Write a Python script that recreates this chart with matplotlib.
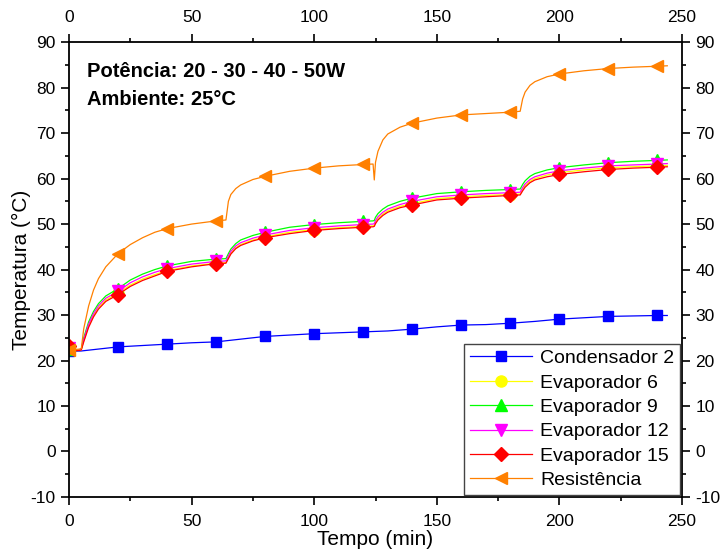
import numpy as np
import matplotlib.pyplot as plt

plt.rcParams['font.family'] = ['Liberation Sans', 'DejaVu Sans']
plt.rcParams['axes.unicode_minus'] = False

# tempo comum para evaporadores e resistencia (min)
tempo = [0, 2, 4, 5, 6, 8, 10, 12, 15, 20, 25, 30, 35, 40, 50, 60, 64, 65, 66, 68,
         70, 75, 80, 90, 100, 110, 120, 124, 124.5, 125, 126, 128, 130, 135, 140,
         150, 160, 170, 180, 184, 185, 186, 188, 190, 195, 200, 210, 220, 230, 240, 244]

resistencia = [22.3, 22.4, 22.5, 22.6, 27.0, 32.0, 35.5, 38.0, 40.6, 43.5, 45.5, 47.0,
               48.2, 49.0, 50.0, 50.7, 50.9, 55.0, 56.5, 57.8, 58.6, 59.8, 60.5, 61.6,
               62.3, 62.8, 63.1, 63.2, 59.7, 63.6, 66.0, 68.5, 69.8, 71.3, 72.2, 73.3,
               74.0, 74.3, 74.6, 74.8, 77.5, 79.0, 80.5, 81.3, 82.4, 83.0, 83.7, 84.2,
               84.5, 84.7, 84.8]

evap9 = [22.6, 22.3, 22.3, 22.5, 25.0, 28.5, 30.8, 32.5, 34.2, 35.8, 37.7, 39.0,
         40.0, 40.8, 41.8, 42.3, 42.4, 43.5, 44.5, 45.7, 46.5, 47.5, 48.2, 49.3,
         49.9, 50.3, 50.6, 50.7, 50.8, 51.5, 52.3, 53.3, 54.0, 55.0, 55.7, 56.7,
         57.1, 57.4, 57.6, 57.7, 58.7, 59.5, 60.5, 61.1, 61.9, 62.4, 63.0, 63.5,
         63.8, 64.0, 64.1]

evap12 = [22.7, 22.3, 22.3, 22.5, 24.6, 28.0, 30.3, 32.0, 33.7, 35.2, 37.1, 38.4,
          39.4, 40.2, 41.2, 41.8, 41.9, 43.0, 44.0, 45.2, 45.9, 46.9, 47.6, 48.6,
          49.2, 49.6, 49.9, 50.0, 50.1, 50.8, 51.6, 52.6, 53.3, 54.3, 55.0, 56.0,
          56.4, 56.7, 56.9, 57.0, 58.0, 58.8, 59.8, 60.4, 61.2, 61.7, 62.3, 62.8,
          63.0, 63.2, 63.3]

evap6 = [22.5, 22.2, 22.2, 22.4, 24.3, 27.6, 29.9, 31.6, 33.3, 34.8, 36.6, 37.9,
         38.9, 39.8, 40.8, 41.4, 41.5, 42.6, 43.6, 44.8, 45.5, 46.5, 47.2, 48.2,
         48.8, 49.2, 49.5, 49.6, 49.7, 50.4, 51.2, 52.2, 52.9, 53.9, 54.5, 55.6,
         56.0, 56.3, 56.5, 56.6, 57.6, 58.4, 59.4, 60.0, 60.8, 61.3, 61.9, 62.4,
         62.6, 62.8, 62.9]

evap15 = [23.2, 22.2, 22.2, 22.3, 24.1, 27.3, 29.6, 31.3, 33.0, 34.5, 36.3, 37.6,
          38.6, 39.6, 40.6, 41.3, 41.4, 42.4, 43.4, 44.6, 45.3, 46.3, 47.0, 47.9,
          48.6, 49.0, 49.3, 49.4, 49.5, 50.1, 50.9, 51.9, 52.6, 53.6, 54.2, 55.3,
          55.7, 56.0, 56.3, 56.4, 57.3, 58.1, 59.1, 59.7, 60.4, 60.9, 61.5, 62.0,
          62.3, 62.5, 62.6]

# condensador
tempo_cond = [0, 5, 10, 20, 30, 40, 50, 60, 70, 80, 90, 100, 110, 120, 130, 140,
              150, 160, 170, 180, 190, 200, 210, 220, 230, 240, 244]
condensador = [22.0, 22.1, 22.4, 23.0, 23.3, 23.6, 23.9, 24.1, 24.7, 25.3, 25.6,
               25.9, 26.1, 26.3, 26.5, 26.9, 27.4, 27.8, 27.9, 28.2, 28.6, 29.1,
               29.4, 29.7, 29.8, 29.9, 29.9]


def marcas(t):
    """indices a cada 20 min"""
    return [i for i, v in enumerate(t) if v % 20 == 0 and v <= 240]


fig = plt.figure(figsize=(7.22, 5.5), dpi=100)
ax = fig.add_axes([0.0956, 0.0964, 0.849, 0.827])

ax.plot(tempo_cond, condensador, color='#0000ff', lw=0.9, marker='s', ms=7,
        markevery=marcas(tempo_cond), label='Condensador 2')
ax.plot(tempo, evap6, color='#ffff00', lw=0.9, marker='o', ms=8,
        markevery=marcas(tempo), label='Evaporador 6')
ax.plot(tempo, evap9, color='#00ff00', lw=0.9, marker='^', ms=8,
        markevery=marcas(tempo), label='Evaporador 9')
ax.plot(tempo, evap12, color='#ff00ff', lw=0.9, marker='v', ms=8,
        markevery=marcas(tempo), label='Evaporador 12')
ax.plot(tempo, evap15, color='#ff0000', lw=0.9, marker='D', ms=7,
        markevery=marcas(tempo), label='Evaporador 15')
ax.plot(tempo, resistencia, color='#ff8000', lw=0.9, marker='<', ms=9,
        markevery=marcas(tempo), label='Resistência')

ax.set_xlim(0, 250)
ax.set_ylim(-10, 90)
ax.set_xticks(np.arange(0, 251, 50))
ax.set_xticks(np.arange(25, 250, 50), minor=True)
ax.set_yticks(np.arange(-10, 91, 10))
ax.set_yticks(np.arange(-5, 90, 10), minor=True)
ax.tick_params(which='both', direction='out', top=True, right=True,
               labeltop=True, labelright=True, labelsize=12.5, width=1.2)
ax.tick_params(axis='x', pad=6)
ax.tick_params(which='major', length=6)
ax.tick_params(which='minor', length=3)
for s in ax.spines.values():
    s.set_linewidth(1.3)

ax.set_xlabel('Tempo (min)', fontsize=15, labelpad=1)
ax.set_ylabel('Temperatura (°C)', fontsize=15, labelpad=0)

ax.text(0.03, 0.935, 'Potência: 20 - 30 - 40 - 50W', transform=ax.transAxes,
        fontsize=14.5, fontweight='bold', va='center')
ax.text(0.03, 0.873, 'Ambiente: 25°C', transform=ax.transAxes,
        fontsize=14.5, fontweight='bold', va='center')

leg = ax.legend(loc='lower right', fontsize=14, fancybox=False, framealpha=1,
                edgecolor='#444444', handlelength=3.2, borderpad=0.3,
                labelspacing=0.35, handletextpad=0.4, borderaxespad=0.1)
leg.get_frame().set_linewidth(1.0)

plt.savefig('out.png', dpi=100)
